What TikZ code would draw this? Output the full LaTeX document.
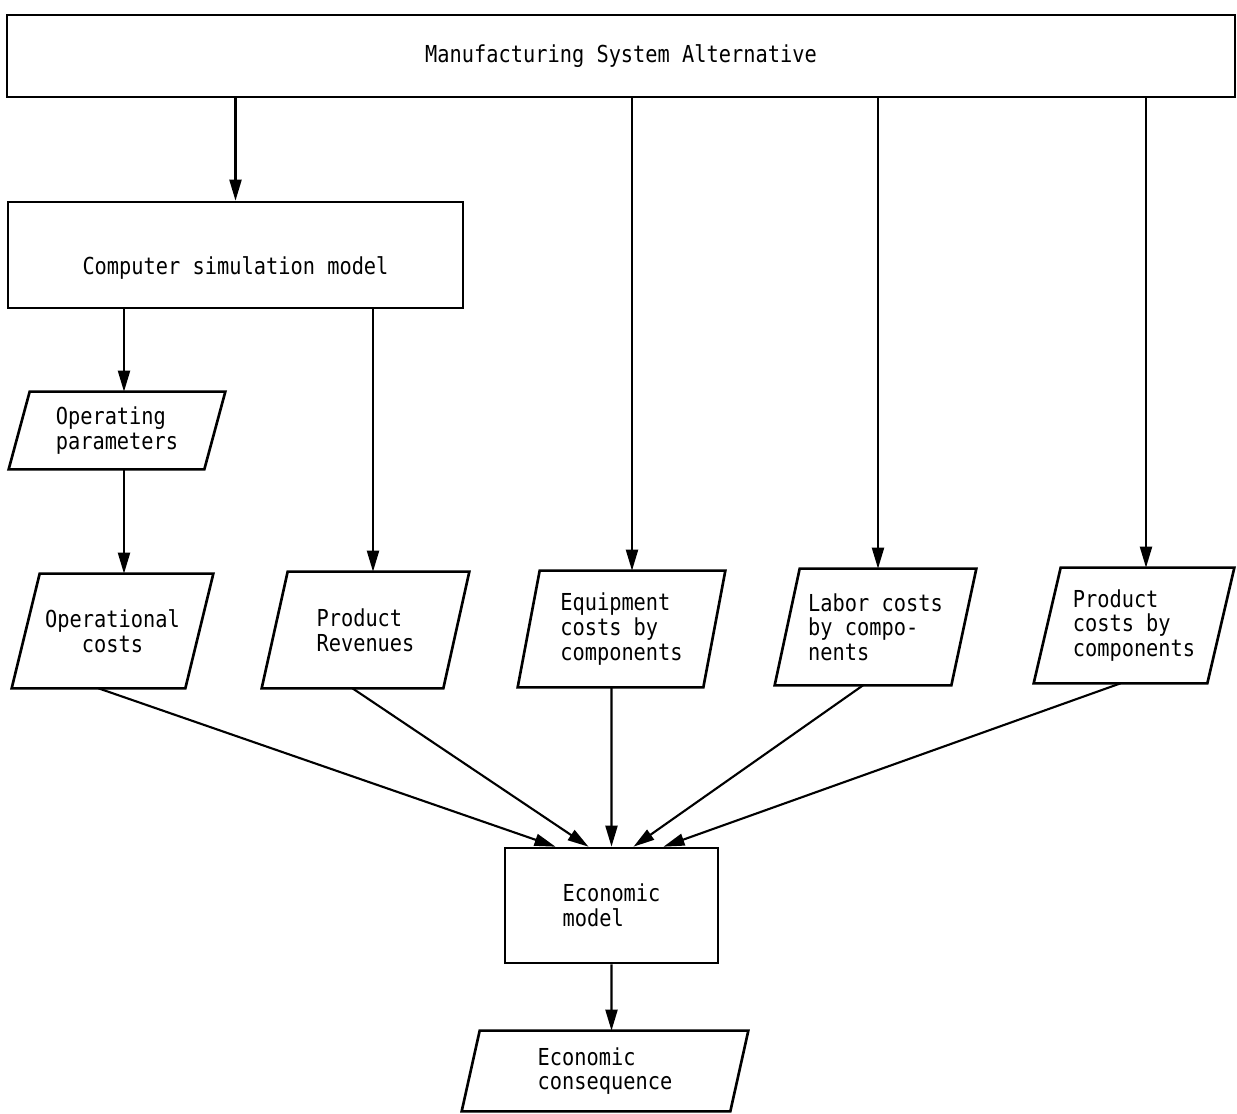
\documentclass[tikz,border=0pt]{standalone}
\usepackage{fontspec}
\usepackage{tikz}
\usetikzlibrary{arrows.meta}
\newfontfamily\flowfont{DejaVu Sans Mono}[FakeStretch=0.87]

\tikzset{
  box/.style={draw, line width=1.5pt, inner sep=0pt, align=left},
  datum/.style={inner sep=0pt, align=left},
  frame/.style={line width=1.5pt, line join=miter},
  flow/.style={-{Triangle[length=0.42cm,width=0.24cm]}, line width=1.2pt}
}
% slanted outline round a data node: name, slant
\newcommand{\slantframe}[2]{%
  \draw[frame] ([xshift=#2]#1.north west) -- (#1.north east)
    -- ([xshift=-#2]#1.south east) -- (#1.south west) -- cycle;}

\begin{document}
\begin{tikzpicture}[x=0.02cm, y=-0.02cm, font=\flowfont\fontsize{13.3pt}{14pt}\selectfont]
\useasboundingbox (0,0) rectangle (1237,1114);

% Top level
\node[box, minimum width=24.56cm, minimum height=1.64cm] (alt) at (621,56) {Manufacturing System Alternative};
\node[box, minimum width=9.1cm, minimum height=2.12cm, text height=0.8cm, text depth=0pt] (sim) at (235.5,255) {Computer simulation model};

% Data blocks
\node[datum, minimum width=4.32cm, minimum height=1.54cm] (opp) at (117,430.5) {Operating\\parameters};
\node[datum, align=center, minimum width=4.02cm, minimum height=2.28cm] (opc) at (112.5,631) {Operational\\costs};
\node[datum, minimum width=4.14cm, minimum height=2.32cm] (prv) at (365.5,630) {Product\\Revenues};
\node[datum, minimum width=4.14cm, minimum height=2.32cm] (eqc) at (621.5,629) {Equipment\\costs by\\components};
\node[datum, minimum width=4.02cm, minimum height=2.32cm] (lbc) at (875.5,627) {Labor costs\\by compo-\\nents};
\node[datum, minimum width=4.00cm, minimum height=2.30cm] (pdc) at (1134,625.5) {Product\\costs by\\components};
\slantframe{opp}{0.42cm}
\slantframe{opc}{0.56cm}
\slantframe{prv}{0.52cm}
\slantframe{eqc}{0.44cm}
\slantframe{lbc}{0.50cm}
\slantframe{pdc}{0.54cm}

% Economic evaluation
\node[box, minimum width=4.26cm, minimum height=2.3cm] (eco) at (611.5,905.5) {Economic\\model};
\node[datum, minimum width=5.72cm, minimum height=1.6cm] (ecs) at (605,1071) {Economic\\consequence};
\slantframe{ecs}{0.36cm}

% Flows from the alternative
\draw[flow] (alt.south -| sim.north) -- (sim.north);
\draw[flow] (alt.south -| eqc.north) ++(0.21cm,0) -- ([xshift=0.21cm]eqc.north);
\draw[flow] (alt.south -| lbc.north) ++(0.05cm,0) -- ([xshift=0.05cm]lbc.north);
\draw[flow] (alt.south -| pdc.north) ++(0.24cm,0) -- ([xshift=0.24cm]pdc.north);

% Flows from the simulation
\draw[flow] (sim.south -| opp.north) ++(0.14cm,0) -- ([xshift=0.14cm]opp.north);
\draw[flow] (opp.south -| opc.north) ++(0.23cm,0) -- ([xshift=0.23cm]opc.north);
\draw[flow] (sim.south -| prv.north) ++(0.15cm,0) -- ([xshift=0.15cm]prv.north);

% Into the economic model
\draw[flow] ([xshift=-0.28cm]opc.south) -- ([xshift=-1.12cm]eco.north);
\draw[flow] ([xshift=-0.26cm]prv.south) -- ([xshift=-0.46cm]eco.north);
\draw[flow] ([xshift=-0.2cm]eqc.south) -- (eco.north);
\draw[flow] ([xshift=-0.25cm]lbc.south) -- ([xshift=0.44cm]eco.north);
\draw[flow] ([xshift=-0.27cm]pdc.south) -- ([xshift=1.04cm]eco.north);
\draw[flow] (eco.south) -- ([xshift=0.13cm]ecs.north);
\end{tikzpicture}
\end{document}
